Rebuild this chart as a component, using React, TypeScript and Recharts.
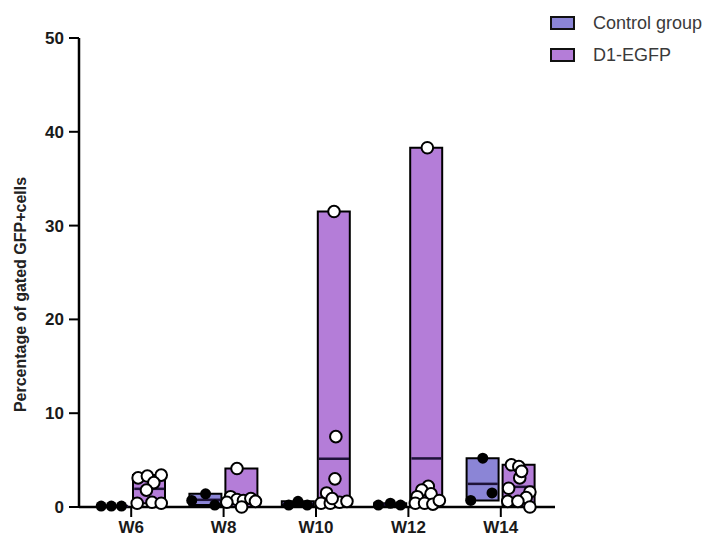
import React from 'react';
import { ComposedChart, Bar, Scatter, XAxis, YAxis, Legend, Label } from 'recharts';

const categories = ['W6', 'W8', 'W10', 'W12', 'W14'];
const seriesNames = ['Control group', 'D1-EGFP'];
const yTicks = [0, 10, 20, 30, 40, 50];
const yAxisLabel = 'Percentage of gated GFP+cells';

const controlValues: number[][] = [
  [0.1, 0.1, 0.1],
  [1.4, 0.7, 0.2],
  [0.2, 0.6, 0.2],
  [0.2, 0.4, 0.2],
  [5.2, 1.5, 0.7],
];
const controlJitter: number[][] = [
  [-0.13, -0.02, 0.09],
  [0.0, -0.15, 0.1],
  [-0.1, 0.0, 0.1],
  [-0.13, 0.0, 0.11],
  [0.0, 0.1, -0.13],
];

const d1Values: number[][] = [
  [3.1, 3.3, 3.4, 2.6, 1.8, 0.4, 0.5, 0.4],
  [4.1, 1.1, 0.8, 0.7, 0.9, 0.0, 0.6, 0.5],
  [31.5, 7.5, 3.0, 1.5, 0.4, 0.4, 0.5, 0.6, 0.9],
  [38.3, 2.2, 1.8, 1.4, 1.1, 0.4, 0.4, 0.3, 0.7],
  [4.5, 4.3, 3.1, 2.0, 1.6, 1.0, 0.6, 0.6, 0.0, 3.8],
];
const d1Jitter: number[][] = [
  [-0.12, -0.02, 0.13, 0.05, -0.03, -0.13, 0.03, 0.13],
  [-0.05, -0.12, -0.05, 0.02, 0.1, 0.0, 0.15, -0.16],
  [0.0, 0.02, 0.01, -0.08, -0.14, -0.04, 0.06, 0.14, -0.02],
  [0.01, 0.02, -0.05, 0.05, -0.1, -0.12, -0.02, 0.07, 0.14],
  [-0.08, 0.0, 0.01, -0.11, 0.12, 0.08, -0.12, -0.01, 0.12, 0.03],
];

const CONTROL_FILL = '#8B85D6';
const D1_FILL = '#B47DD8';
const GROUP_OFFSET = 0.195;
const FONT = '"Liberation Sans", Arial, sans-serif';

const mean = (a: number[]) => a.reduce((s, v) => s + v, 0) / a.length;

const barData = categories.map((cat, i) => ({
  cat,
  control: [Math.min(...controlValues[i]), Math.max(...controlValues[i])],
  d1: [Math.min(...d1Values[i]), Math.max(...d1Values[i])],
}));

const controlPoints = controlValues.flatMap((vals, i) =>
  vals.map((v, j) => ({ x: i - GROUP_OFFSET + controlJitter[i][j], y: v }))
);
const d1Points = d1Values.flatMap((vals, i) =>
  vals.map((v, j) => ({ x: i + GROUP_OFFSET + d1Jitter[i][j], y: v }))
);
const meanPoints = [
  ...controlValues.map((vals, i) => ({ x: i - GROUP_OFFSET, y: mean(vals) })),
  ...d1Values.map((vals, i) => ({ x: i + GROUP_OFFSET, y: mean(vals) })),
];

const MeanLine = (p: any) => (
  <line x1={p.cx - 15} x2={p.cx + 15} y1={p.cy} y2={p.cy} stroke="#1e1238" strokeWidth={2.5} />
);
const ControlDot = (p: any) => <circle cx={p.cx} cy={p.cy} r={5.5} fill="#000" />;
const D1Dot = (p: any) => (
  <circle cx={p.cx} cy={p.cy} r={5.8} fill="#fff" stroke="#000" strokeWidth={2} />
);

const renderLegend = (props: any) => {
  const { payload = [] } = props;
  const items = payload.filter((e: any) => seriesNames.includes(e.value));
  return (
    <div style={{ fontFamily: FONT }}>
      {items.map((entry: any) => (
        <div key={entry.value} style={{ display: 'flex', alignItems: 'center', height: 32 }}>
          <span
            style={{
              display: 'inline-block',
              width: 21,
              height: 10,
              background: entry.color,
              border: '2px solid #111',
              marginRight: 18,
            }}
          />
          <span style={{ fontSize: 18, color: '#3a3a3a', whiteSpace: 'nowrap' }}>{entry.value}</span>
        </div>
      ))}
    </div>
  );
};

const YLabel = (p: any) => {
  const vb = p.viewBox || { y: 38, height: 469 };
  const cx = 20;
  const cy = vb.y + vb.height / 2 + 22;
  return (
    <text
      x={cx}
      y={cy}
      transform={`rotate(-90 ${cx} ${cy})`}
      textAnchor="middle"
      dominantBaseline="central"
      fontFamily={FONT}
      fontWeight="bold"
      fontSize={16}
      fill="#222"
    >
      {yAxisLabel}
    </text>
  );
};

const tickStyle = { fontFamily: FONT, fontWeight: 'bold', fontSize: 17, fill: '#1a1a1a' };

export default function App() {
  return (
    <div style={{ position: 'absolute', left: 0, top: 0, width: 708, height: 540, background: '#fff' }}>
      <ComposedChart
        width={708}
        height={540}
        data={barData}
        margin={{ top: 38, right: 153, bottom: 0, left: 0 }}
        barSize={32}
        barGap={4}
      >
        <XAxis
          xAxisId="cat"
          dataKey="cat"
          type="category"
          padding={{ left: 6, right: 8 }}
          axisLine={{ stroke: '#000', strokeWidth: 2.5 }}
          tickLine={{ stroke: '#000', strokeWidth: 2 }}
          tickSize={10}
          tickMargin={4}
          tick={tickStyle}
          interval={0}
          height={33}
        />
        <XAxis
          xAxisId="num"
          dataKey="x"
          type="number"
          domain={[-0.5, 4.5]}
          padding={{ left: 6, right: 8 }}
          hide
          height={0}
          allowDataOverflow
        />
        <YAxis
          type="number"
          domain={[0, 50]}
          ticks={yTicks}
          width={79}
          axisLine={{ stroke: '#000', strokeWidth: 2.5 }}
          tickLine={{ stroke: '#000', strokeWidth: 2 }}
          tickSize={10}
          tickMargin={5}
          tick={tickStyle}
          interval={0}
        >
          <Label content={<YLabel />} />
        </YAxis>
        <Legend
          layout="vertical"
          align="center"
          verticalAlign="middle"
          wrapperStyle={{ top: 7, left: 550, width: 158 }}
          content={renderLegend}
        />
        <Bar
          xAxisId="cat"
          dataKey="control"
          name={seriesNames[0]}
          fill={CONTROL_FILL}
          stroke="#000"
          strokeWidth={2}
          isAnimationActive={false}
        />
        <Bar
          xAxisId="cat"
          dataKey="d1"
          name={seriesNames[1]}
          fill={D1_FILL}
          stroke="#000"
          strokeWidth={2}
          isAnimationActive={false}
        />
        <Scatter
          xAxisId="num"
          data={meanPoints}
          dataKey="y"
          shape={<MeanLine />}
          legendType="none"
          isAnimationActive={false}
        />
        <Scatter
          xAxisId="num"
          data={controlPoints}
          dataKey="y"
          shape={<ControlDot />}
          legendType="none"
          isAnimationActive={false}
        />
        <Scatter
          xAxisId="num"
          data={d1Points}
          dataKey="y"
          shape={<D1Dot />}
          legendType="none"
          isAnimationActive={false}
        />
      </ComposedChart>
    </div>
  );
}
